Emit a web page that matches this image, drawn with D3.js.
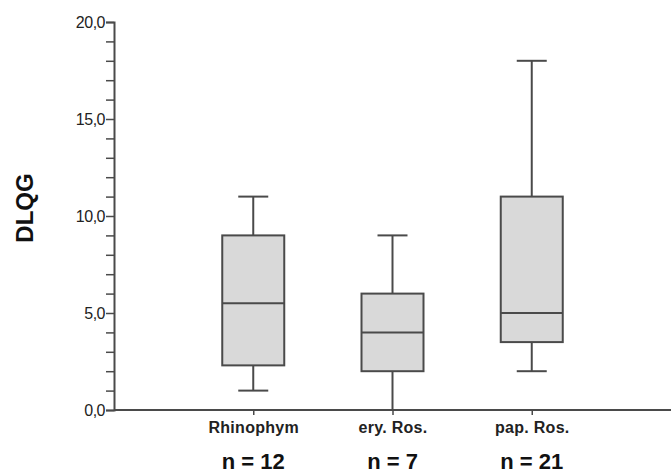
<!DOCTYPE html>
<html>
<head>
<meta charset="utf-8">
<script src="https://cdn.jsdelivr.net/npm/d3@7"></script>
<style>
  body { margin: 0; background: #fff; }
  text { font-family: "Liberation Sans", Arial, sans-serif; }
</style>
</head>
<body>
<div id="chart"></div>
<script>
  var categories = ["Rhinophym", "ery. Ros.", "pap. Ros."];
  var nLabels = ["n = 12", "n = 7", "n = 21"];
  var whiskerLow = [1.0, 0.0, 2.0];
  var q1 = [2.3, 2.0, 3.5];
  var median = [5.5, 4.0, 5.0];
  var q3 = [9.0, 6.0, 11.0];
  var whiskerHigh = [11.0, 9.0, 18.0];
  var yTicks = d3.range(0, 21, 1);

  var W = 671, H = 475;
  var margin = {top: 22, right: 0, bottom: 65, left: 114};

  var svg = d3.select("#chart")
    .append("svg")
      .attr("width", W)
      .attr("height", H);

  var x = d3.scalePoint()
    .domain(categories)
    .range([margin.left, W - margin.right])
    .padding(1);

  var y = d3.scaleLinear()
    .domain([0, 20])
    .range([H - margin.bottom, margin.top]);

  var stroke = "#4a4a4a";
  var boxW = 62, capW = 30;

  // boxes
  var g = svg.append("g");
  categories.forEach(function (c, i) {
    var cx = x(c);
    // whiskers
    g.append("line")
      .attr("x1", cx).attr("x2", cx)
      .attr("y1", y(q3[i])).attr("y2", y(whiskerHigh[i]))
      .attr("stroke", stroke).attr("stroke-width", 2);
    g.append("line")
      .attr("x1", cx).attr("x2", cx)
      .attr("y1", y(q1[i])).attr("y2", y(whiskerLow[i]))
      .attr("stroke", stroke).attr("stroke-width", 2);
    g.append("line")
      .attr("x1", cx - capW / 2).attr("x2", cx + capW / 2)
      .attr("y1", y(whiskerHigh[i])).attr("y2", y(whiskerHigh[i]))
      .attr("stroke", stroke).attr("stroke-width", 2);
    g.append("line")
      .attr("x1", cx - capW / 2).attr("x2", cx + capW / 2)
      .attr("y1", y(whiskerLow[i])).attr("y2", y(whiskerLow[i]))
      .attr("stroke", stroke).attr("stroke-width", 2);
    // box
    g.append("rect")
      .attr("x", cx - boxW / 2)
      .attr("y", y(q3[i]))
      .attr("width", boxW)
      .attr("height", y(q1[i]) - y(q3[i]))
      .attr("fill", "#d9d9d9")
      .attr("stroke", stroke)
      .attr("stroke-width", 2);
    g.append("line")
      .attr("x1", cx - boxW / 2).attr("x2", cx + boxW / 2)
      .attr("y1", y(median[i])).attr("y2", y(median[i]))
      .attr("stroke", stroke).attr("stroke-width", 2);
  });

  // y axis
  var yAxis = svg.append("g")
    .attr("transform", "translate(" + margin.left + ",0)")
    .call(d3.axisLeft(y)
      .tickValues(yTicks)
      .tickSize(8)
      .tickPadding(1)
      .tickFormat(function (d) { return d % 5 === 0 ? d3.format(".1f")(d).replace(".", ",") : ""; }));
  yAxis.select(".domain").attr("stroke", stroke).attr("stroke-width", 2);
  yAxis.selectAll(".tick line").attr("stroke", stroke).attr("stroke-width", 1.5);
  yAxis.selectAll(".tick text")
    .attr("fill", "#222")
    .style("font-size", "16px")
    .style("letter-spacing", "-0.5px");

  // x axis
  var xAxis = svg.append("g")
    .attr("transform", "translate(0," + y(0) + ")")
    .call(d3.axisBottom(x).tickSize(5).tickSizeOuter(0).tickPadding(7));
  xAxis.select(".domain")
    .attr("d", "M" + margin.left + ",0H" + W)
    .attr("stroke", stroke).attr("stroke-width", 2);
  xAxis.selectAll(".tick line").attr("stroke", stroke).attr("stroke-width", 1.5);
  xAxis.selectAll(".tick text")
    .attr("fill", "#222")
    .style("font-size", "16px")
    .style("font-weight", "bold")
    .style("letter-spacing", "0.3px");

  // n labels
  svg.append("g").selectAll("text")
    .data(nLabels)
    .enter()
    .append("text")
      .attr("x", function (d, i) { return x(categories[i]); })
      .attr("y", 469)
      .attr("text-anchor", "middle")
      .attr("fill", "#111")
      .style("font-size", "22px")
      .style("font-weight", "bold")
      .text(function (d) { return d; });

  // y label
  svg.append("text")
    .attr("transform", "translate(33,208) rotate(-90)")
    .attr("text-anchor", "middle")
    .attr("fill", "#111")
    .style("font-size", "24px")
    .style("font-weight", "bold")
    .text("DLQG");
</script>
</body>
</html>
